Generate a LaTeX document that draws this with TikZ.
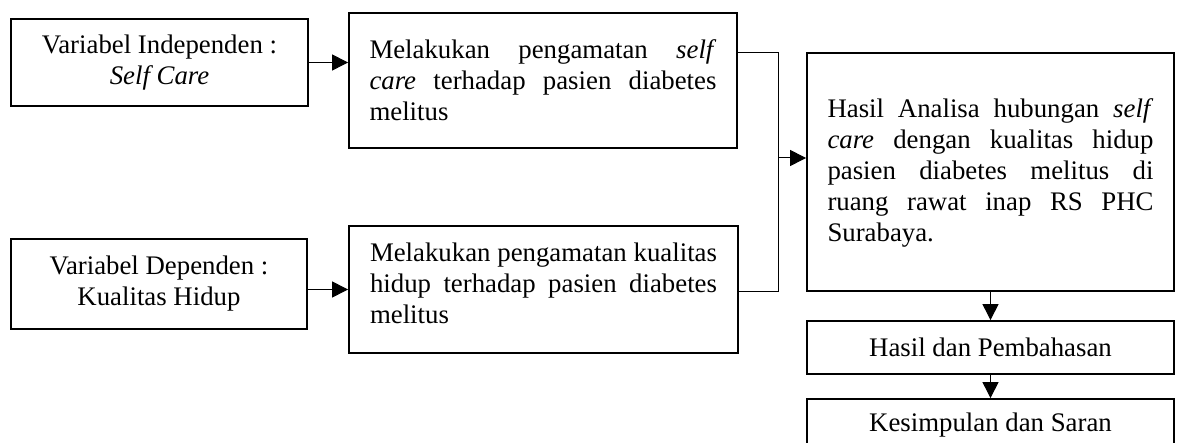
\documentclass[tikz,border=0pt]{standalone}
\usepackage{fontspec}
\setmainfont{Liberation Serif}
\usetikzlibrary{arrows.meta,calc}
\tolerance=10000
\hyphenpenalty=10000
\begin{document}
\begin{tikzpicture}[x=0.5pt,y=-0.5pt,
 box/.style={draw, line width=0.9pt, inner sep=0pt, font=\fontsize{13.4}{15.5}\selectfont, align=center},
 jbox/.style={box, align=justify},
 conn/.style={line width=0.5pt},
 arr/.style={conn, -{Triangle[length=8pt,width=8pt]}}]
\clip (0,0) rectangle (1179,443);
\fill[white] (0,0) rectangle (1179,443);
\node[box, minimum width=148.5pt, minimum height=43.5pt] (A) at (159.5,62.5) {Variabel Independen :\\\textit{Self Care}};
\node[jbox, text width=173.5pt, minimum width=194pt, minimum height=67.5pt, text height=10pt, text depth=31.5pt] (B) at (543,80.5) {Melakukan pengamatan \textit{self}\linebreak \textit{care} terhadap pasien diabetes\linebreak melitus};
\node[box, minimum width=148pt, minimum height=45pt] (C) at (159,284) {Variabel Dependen :\\Kualitas Hidup};
\node[jbox, text width=173.5pt, minimum width=194.5pt, minimum height=63.5pt, text height=10pt, text depth=37.5pt] (D) at (543.5,289.5) {Melakukan pengamatan kualitas\linebreak hidup terhadap pasien diabetes\linebreak melitus};
\node[jbox, text width=163pt, minimum width=183.5pt, minimum height=119pt, text height=10pt, text depth=64pt] (E) at (990.5,172) {Hasil Analisa hubungan \textit{self}\linebreak \textit{care} dengan kualitas hidup\linebreak pasien diabetes melitus di\linebreak ruang rawat inap RS PHC\linebreak Surabaya.};
\node[box, minimum width=183.5pt, minimum height=26.5pt] (F) at (990.5,347.5) {Hasil dan Pembahasan};
\node[box, minimum width=183.5pt, minimum height=26.5pt] (G) at (990.5,425.5) {Kesimpulan dan Saran};
\coordinate (J) at (778,158);
\draw[arr] (A.east) -- (A.east -| B.west);
\draw[arr] (C.east |- D.west) -- (D.west);
\draw[conn] (B.east |- E.north) -| (J |- E.south) -- (D.east |- E.south);
\draw[arr] (J) -- (J -| E.west);
\draw[arr] (E.south) -- (F.north);
\draw[arr] (F.south) -- (G.north);
\end{tikzpicture}
\end{document}
